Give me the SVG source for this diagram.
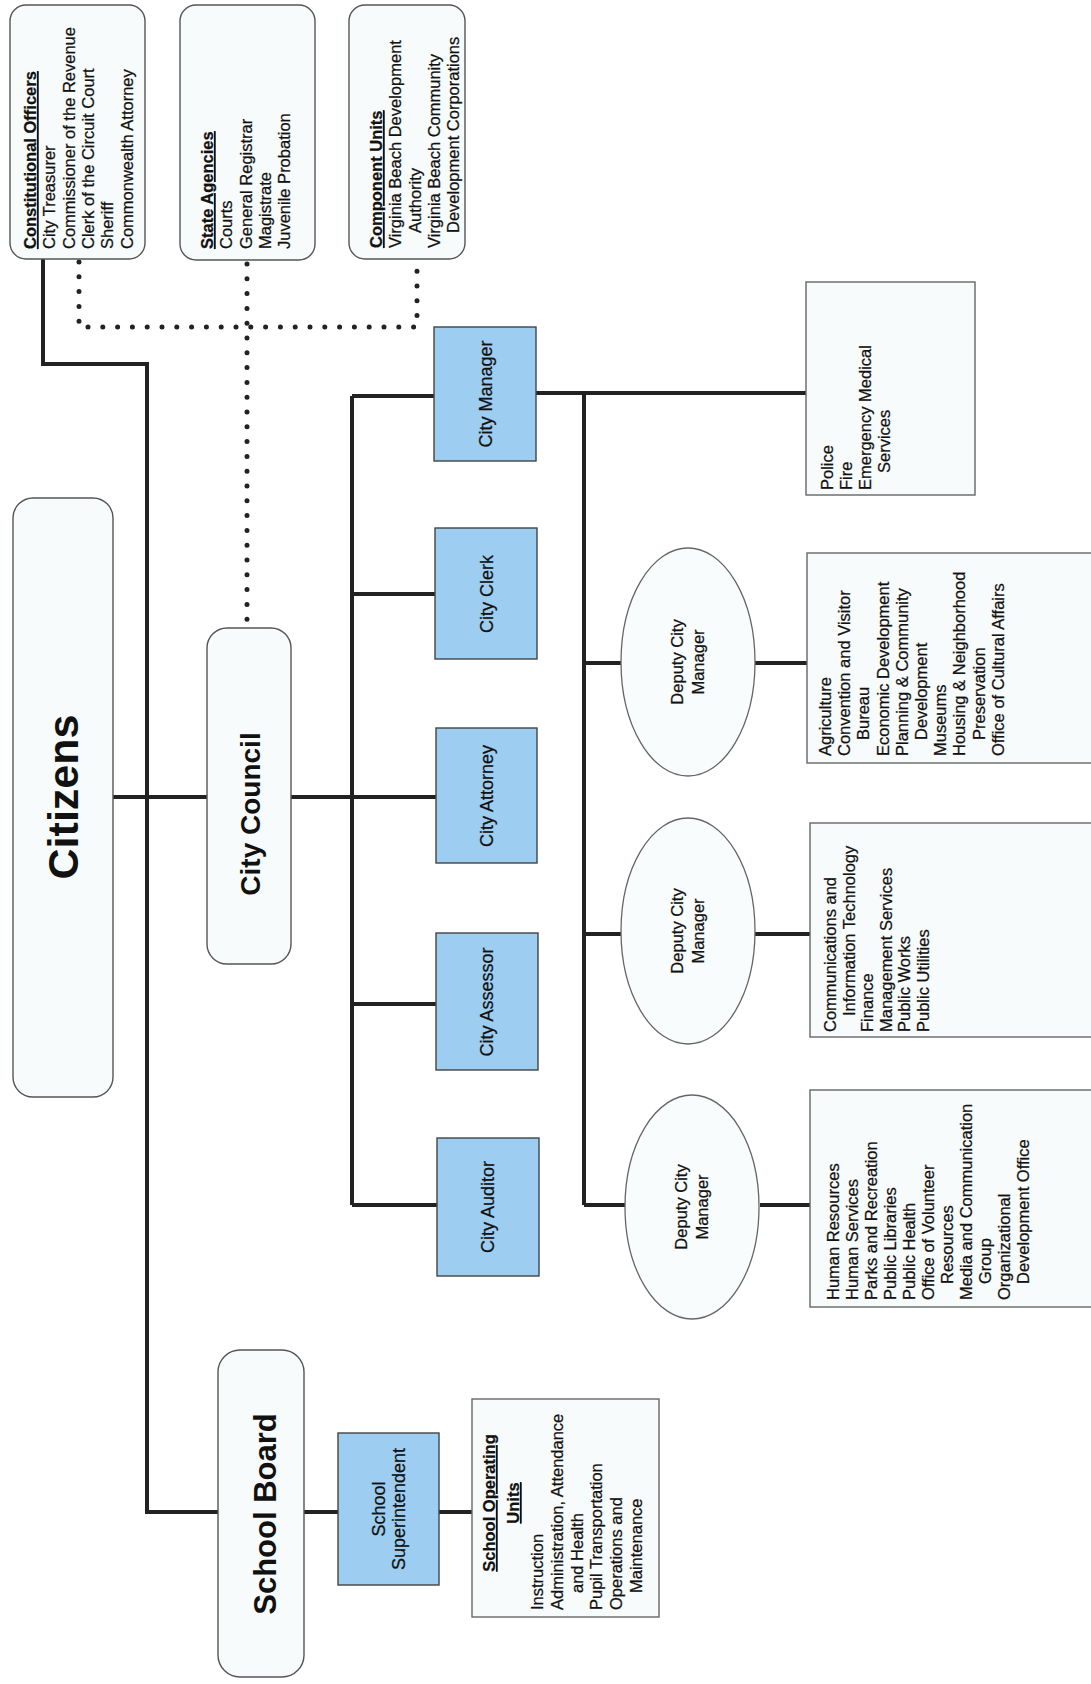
<svg xmlns="http://www.w3.org/2000/svg" width="1091" height="1684" viewBox="0 0 1091 1684">
<style>
.bg{fill:#ffffff}
.rbox{fill:#f7fbfb;stroke:#555;stroke-width:1.4}
.blue{fill:#9dcdf0;stroke:#444;stroke-width:1.4}
.sq{fill:#f8fbfb;stroke:#666;stroke-width:1.4}
.ell{fill:#f9fcfc;stroke:#666;stroke-width:1.3}
.t{font-family:"Liberation Sans",Arial,sans-serif;font-size:16.5px;fill:#111;stroke:#111;stroke-width:0.25}
.lbl{font-size:18px}
.big{font-family:"Liberation Sans",Arial,sans-serif;font-weight:bold;fill:#111}
.h{font-weight:bold;text-decoration:underline}
.ln{fill:none;stroke:#222;stroke-width:4;stroke-linecap:butt;stroke-linejoin:miter}
.dot{fill:none;stroke:#222;stroke-width:5;stroke-linecap:round;stroke-dasharray:0 14.8}
</style>
<rect class="bg" x="0" y="0" width="1091" height="1684"/>

<g id="connectors">
<path class="ln" d="M43,259 V364 H147 V1512 H218"/>
<path class="ln" d="M113,797 H207"/>
<path class="ln" d="M291,797 H436"/>
<path class="ln" d="M352,396 V1205"/>
<path class="ln" d="M352,396 H434"/>
<path class="ln" d="M352,594 H435"/>
<path class="ln" d="M352,1004 H436"/>
<path class="ln" d="M352,1205 H437"/>
<path class="ln" d="M536,393 H806"/>
<path class="ln" d="M584,393 V1205"/>
<path class="ln" d="M584,663 H621"/>
<path class="ln" d="M755,663 H807"/>
<path class="ln" d="M584,934 H621"/>
<path class="ln" d="M755,934 H810"/>
<path class="ln" d="M584,1205 H625"/>
<path class="ln" d="M760,1205 H810"/>
<path class="ln" d="M304,1512 H338"/>
<path class="ln" d="M439,1512 H472"/>
<path class="dot" d="M79,262 V327 H417 V262"/>
<path class="dot" d="M247,264 V628"/>
</g>

<g id="constitutional-officers">
<rect class="rbox" x="10" y="5" width="135" height="254" rx="16"/>
<text class="t" font-size="17" transform="translate(36,249) rotate(-90)"><tspan x="0" y="0" class="h">Constitutional Officers</tspan><tspan x="0" y="19.3">City Treasurer</tspan><tspan x="0" y="38.6">Commissioner of the Revenue</tspan><tspan x="0" y="57.9">Clerk of the Circuit Court</tspan><tspan x="0" y="77.2">Sheriff</tspan><tspan x="0" y="96.5">Commonwealth Attorney</tspan></text>
</g>

<g id="state-agencies">
<rect class="rbox" x="180" y="5" width="135" height="255" rx="16"/>
<text class="t" transform="translate(213,249) rotate(-90)"><tspan x="0" y="0" class="h">State Agencies</tspan><tspan x="0" y="19.3">Courts</tspan><tspan x="0" y="38.6">General Registrar</tspan><tspan x="0" y="57.9">Magistrate</tspan><tspan x="0" y="77.2">Juvenile Probation</tspan></text>
</g>

<g id="component-units">
<rect class="rbox" x="349" y="5" width="116" height="254" rx="16"/>
<text class="t" font-size="16" transform="translate(382,248) rotate(-90)"><tspan x="0" y="0" class="h">Component Units</tspan><tspan x="0" y="19.3">Virginia Beach Development</tspan><tspan x="15" y="38.6">Authority</tspan><tspan x="0" y="57.9">Virginia Beach Community</tspan><tspan x="15" y="77.2">Development Corporations</tspan></text>
</g>

<g id="citizens">
<rect class="rbox" x="13" y="498" width="100" height="599" rx="20"/>
<text class="big" font-size="43" text-anchor="middle" transform="translate(78,797) rotate(-90)">Citizens</text>
</g>

<g id="city-council">
<rect class="rbox" x="207" y="628" width="84" height="336" rx="20"/>
<text class="big" font-size="28" text-anchor="middle" transform="translate(260,814) rotate(-90)">City Council</text>
</g>

<g id="school-board">
<rect class="rbox" x="218" y="1350" width="86" height="327" rx="22"/>
<text class="big" font-size="31" text-anchor="middle" transform="translate(276,1514) rotate(-90)">School Board</text>
</g>

<g id="city-manager">
<rect class="blue" x="434" y="327" width="102" height="134"/>
<text class="t lbl" text-anchor="middle" transform="translate(492,394) rotate(-90)">City Manager</text>
</g>
<g id="city-clerk">
<rect class="blue" x="435" y="528" width="102" height="131"/>
<text class="t lbl" text-anchor="middle" transform="translate(493,594) rotate(-90)">City Clerk</text>
</g>
<g id="city-attorney">
<rect class="blue" x="436" y="728" width="101" height="135"/>
<text class="t lbl" text-anchor="middle" transform="translate(493,796) rotate(-90)">City Attorney</text>
</g>
<g id="city-assessor">
<rect class="blue" x="436" y="933" width="102" height="137"/>
<text class="t lbl" text-anchor="middle" transform="translate(493,1002) rotate(-90)">City Assessor</text>
</g>
<g id="city-auditor">
<rect class="blue" x="437" y="1138" width="102" height="138"/>
<text class="t lbl" text-anchor="middle" transform="translate(494,1207) rotate(-90)">City Auditor</text>
</g>

<g id="school-superintendent">
<rect class="blue" x="338" y="1433" width="101" height="152"/>
<text class="t lbl" text-anchor="middle" transform="translate(388,1509) rotate(-90)"><tspan x="0" y="-3">School</tspan><tspan x="0" y="17">Superintendent</tspan></text>
</g>

<g id="school-operating-units">
<rect class="sq" x="472" y="1399" width="187" height="218"/>
<text class="t h" font-size="16" text-anchor="middle" transform="translate(495,1503) rotate(-90)"><tspan x="0" y="0">School Operating</tspan><tspan x="0" y="24">Units</tspan></text>
<text class="t" font-size="15.5" transform="translate(543,1610) rotate(-90)"><tspan x="0" y="0">Instruction</tspan><tspan x="0" y="19.8">Administration, Attendance</tspan><tspan x="17" y="39.6">and Health</tspan><tspan x="0" y="59.4">Pupil Transportation</tspan><tspan x="0" y="79.2">Operations and</tspan><tspan x="17" y="99">Maintenance</tspan></text>
</g>

<g id="public-safety">
<rect class="sq" x="806" y="282" width="169" height="213"/>
<text class="t" transform="translate(833,490) rotate(-90)"><tspan x="0" y="0">Police</tspan><tspan x="0" y="19">Fire</tspan><tspan x="0" y="38">Emergency Medical</tspan><tspan x="17" y="57">Services</tspan></text>
</g>

<g id="deputy-city-manager-1">
<ellipse class="ell" cx="688" cy="662" rx="67" ry="114"/>
<text class="t" font-size="17.5" text-anchor="middle" transform="translate(688,662) rotate(-90)"><tspan x="0" y="-5">Deputy City</tspan><tspan x="0" y="16">Manager</tspan></text>
</g>
<g id="departments-1">
<rect class="sq" x="807" y="553" width="290" height="210"/>
<text class="t" transform="translate(831,756) rotate(-90)"><tspan x="0" y="0">Agriculture</tspan><tspan x="0" y="19.2">Convention and Visitor</tspan><tspan x="16" y="38.4">Bureau</tspan><tspan x="0" y="57.6">Economic Development</tspan><tspan x="0" y="76.8">Planning &amp; Community</tspan><tspan x="16" y="96">Development</tspan><tspan x="0" y="115.2">Museums</tspan><tspan x="0" y="134.4">Housing &amp; Neighborhood</tspan><tspan x="16" y="153.6">Preservation</tspan><tspan x="0" y="172.8">Office of Cultural Affairs</tspan></text>
</g>

<g id="deputy-city-manager-2">
<ellipse class="ell" cx="688" cy="931" rx="67" ry="113"/>
<text class="t" font-size="17.5" text-anchor="middle" transform="translate(688,931) rotate(-90)"><tspan x="0" y="-5">Deputy City</tspan><tspan x="0" y="16">Manager</tspan></text>
</g>
<g id="departments-2">
<rect class="sq" x="810" y="823" width="290" height="214"/>
<text class="t" transform="translate(836,1032) rotate(-90)"><tspan x="0" y="0">Communications and</tspan><tspan x="16" y="18.6">Information Technology</tspan><tspan x="0" y="37.2">Finance</tspan><tspan x="0" y="55.8">Management Services</tspan><tspan x="0" y="74.4">Public Works</tspan><tspan x="0" y="93">Public Utilities</tspan></text>
</g>

<g id="deputy-city-manager-3">
<ellipse class="ell" cx="692" cy="1207" rx="67" ry="112"/>
<text class="t" font-size="17.5" text-anchor="middle" transform="translate(692,1207) rotate(-90)"><tspan x="0" y="-5">Deputy City</tspan><tspan x="0" y="16">Manager</tspan></text>
</g>
<g id="departments-3">
<rect class="sq" x="810" y="1090" width="290" height="217"/>
<text class="t" transform="translate(839,1300) rotate(-90)"><tspan x="0" y="0">Human Resources</tspan><tspan x="0" y="19">Human Services</tspan><tspan x="0" y="38">Parks and Recreation</tspan><tspan x="0" y="57">Public Libraries</tspan><tspan x="0" y="76">Public Health</tspan><tspan x="0" y="95">Office of Volunteer</tspan><tspan x="16" y="114">Resources</tspan><tspan x="0" y="133">Media and Communication</tspan><tspan x="16" y="152">Group</tspan><tspan x="0" y="171">Organizational</tspan><tspan x="16" y="190">Development Office</tspan></text>
</g>
</svg>
